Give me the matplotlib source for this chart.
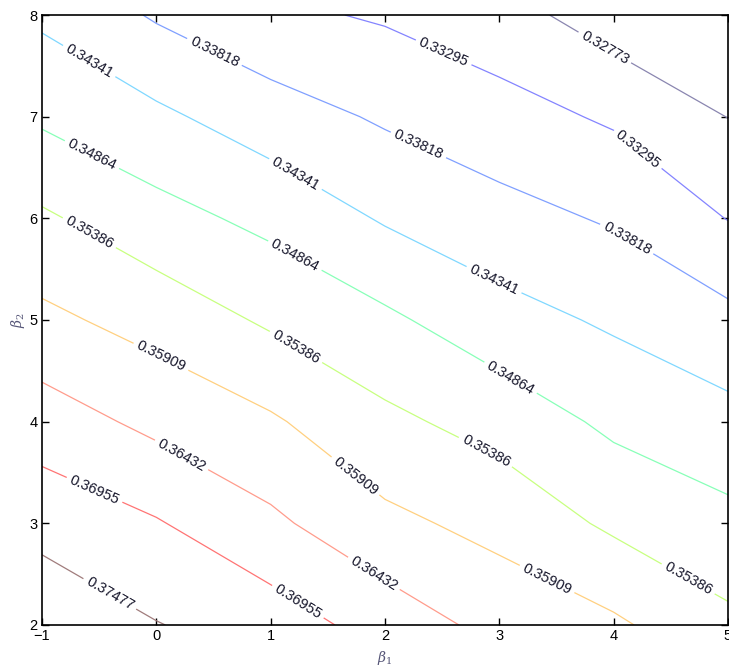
import numpy as np
import matplotlib
matplotlib.use('Agg')
import matplotlib.pyplot as plt

plt.rcParams['font.family'] = ['Liberation Sans', 'DejaVu Sans']
plt.rcParams['mathtext.fontset'] = 'dejavuserif'

# grid (beta1 across, beta2 down the rows)
beta1 = [-1, 0, 1, 2, 3, 4, 5]
beta2 = [2, 3, 4, 5, 6, 7, 8]
z = [
    [0.37885, 0.37498, 0.37231, 0.36740, 0.36264, 0.35998, 0.35501],
    [0.37294, 0.36996, 0.36536, 0.36035, 0.35747, 0.35292, 0.35005],
    [0.36688, 0.36301, 0.35977, 0.35501, 0.35188, 0.34754, 0.34503],
    [0.36029, 0.35710, 0.35308, 0.34963, 0.34540, 0.34263, 0.33959],
    [0.35465, 0.35047, 0.34728, 0.34289, 0.33996, 0.33761, 0.33280],
    [0.34780, 0.34446, 0.34059, 0.33750, 0.33494, 0.33223, 0.32763],
    [0.34247, 0.33761, 0.33400, 0.33238, 0.32982, 0.32506, 0.32250],
]
levels = [0.32773, 0.33295, 0.33818, 0.34341, 0.34864,
          0.35386, 0.35909, 0.36432, 0.36955, 0.37477]

# where the inline labels sit
label_pos = [
    (3.87, 7.58),
    (2.54, 7.70), (4.22, 6.69),
    (0.51, 7.64), (2.30, 6.74), (4.11, 5.79),
    (-0.58, 7.56), (1.23, 6.46), (2.96, 5.41),
    (-0.58, 6.59), (1.23, 5.67), (3.15, 4.53),
    (-0.58, 5.87), (1.23, 4.75), (2.91, 3.77), (4.62, 2.39),
    (0.05, 4.66), (1.78, 3.52), (3.39, 2.39),
    (0.16, 3.55), (1.91, 2.52),
    (-0.56, 3.28), (1.25, 2.25),
    (-0.41, 2.30),
]

# pale jet-like colours, one per level
line_colors = ['#8a86b0', '#8484ff', '#80a0ff', '#80d8ff', '#88ffb8',
               '#c8ff80', '#ffd080', '#ff9c8c', '#ff7474', '#a07c7c']

fig = plt.figure(figsize=(7.29, 6.67), dpi=100)
ax = fig.add_axes([0.0576, 0.063, 0.9410, 0.9145])

cs = ax.contour(beta1, beta2, z, levels=levels, colors=line_colors,
                linewidths=0.9)
ax.clabel(cs, fmt='%.5f', fontsize=10.5, manual=label_pos,
          colors='#15152a', inline_spacing=4)

ax.set_xlim(-1, 5)
ax.set_ylim(2, 8)
ax.set_xticks(beta1)
ax.set_yticks(beta2)
ax.tick_params(direction='in', top=True, right=True, length=5,
               width=1, labelsize=10.5, pad=3)
for s in ax.spines.values():
    s.set_linewidth(1.2)

ax.set_xlabel(r'$\beta_1$', fontsize=10, color='#555577', labelpad=4)
ax.set_ylabel(r'$\beta_2$', fontsize=10, color='#555577', labelpad=2)

fig.savefig('out.png', dpi=100)
